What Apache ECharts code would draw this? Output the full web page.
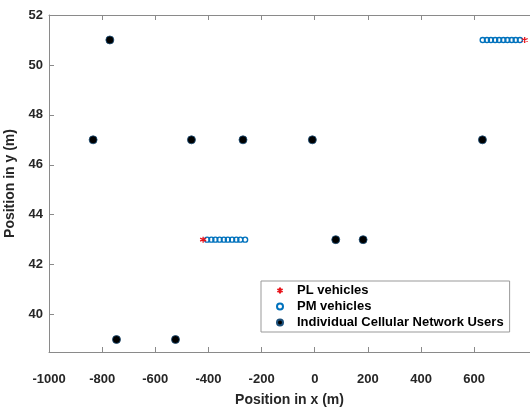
<!DOCTYPE html>
<html>
<head>
<meta charset="utf-8">
<script src="https://cdn.jsdelivr.net/npm/echarts@6/dist/echarts.min.js"></script>
<style>
	html, body { margin: 0; padding: 0; background: #fff; }
	#chart { width: 530px; height: 408px; }
</style>
</head>
<body>
<div id="chart"></div>
<script>
// tick labels
const xTicks = [-1000, -800, -600, -400, -200, 0, 200, 400, 600]
const yTicks = [40, 42, 44, 46, 48, 50, 52]

// PL vehicles (platoon leaders)
const plX = [790, -420]
const plY = [51, 43]

// PM vehicles (platoon members)
const pmX = [632, 648, 663, 679, 694, 710, 725, 741, 756, 772,
	-405, -389, -374, -358, -342, -327, -311, -295, -280, -262]
const pmY = [51, 51, 51, 51, 51, 51, 51, 51, 51, 51,
	43, 43, 43, 43, 43, 43, 43, 43, 43, 43]

// individual cellular network users
const userX = [-771, -834, -464, -270, -9, 631, 79, 182, -746, -524]
const userY = [51, 47, 47, 47, 47, 47, 43, 43, 39, 39]

const zip = (xs, ys) => xs.map((x, i) => [x, ys[i]])

const font = "'Liberation Sans', Arial, sans-serif"
const axisColor = '#8a8a8a'
const labelStyle = {
	color: '#262626',
	fontWeight: 'bold',
	fontSize: 13,
	fontFamily: font,
}

const starPath = 'path://M0,-10 L0,10 M-8.66,-5 L8.66,5 M-8.66,5 L8.66,-5'

const chart = echarts.init(document.getElementById('chart'))
chart.setOption({
	animation: false,
	grid: { left: 49, right: 0, top: 15, bottom: 56, outerBoundsMode: 'none' },
	legend: {
		orient: 'vertical',
		left: 261,
		top: 281,
		padding: [3, 6, 3, 15],
		itemWidth: 24,
		itemHeight: 6,
		itemGap: 3,
		borderColor: '#999',
		borderWidth: 1,
		backgroundColor: '#fff',
		textStyle: {
			color: '#000',
			fontWeight: 'bold',
			fontSize: 13,
			fontFamily: font,
		},
		data: ['PL vehicles', 'PM vehicles', 'Individual Cellular Network Users'],
	},
	xAxis: [
		{
			type: 'value',
			min: -1000,
			max: 810,
			name: 'Position in x (m)',
			nameLocation: 'middle',
			nameGap: 41,
			nameTextStyle: { ...labelStyle, fontSize: 14 },
			splitLine: { show: false },
			axisLine: { show: true, onZero: false, lineStyle: { color: axisColor } },
			axisTick: {
				inside: true,
				length: 5,
				customValues: xTicks,
				lineStyle: { color: axisColor },
			},
			axisLabel: {
				...labelStyle,
				margin: 21,
				customValues: xTicks,
				formatter: (v) => String(v),
			},
		},
		{
			type: 'value',
			position: 'top',
			min: -1000,
			max: 810,
			splitLine: { show: false },
			axisLine: { show: true, onZero: false, lineStyle: { color: axisColor } },
			axisTick: {
				inside: true,
				length: 5,
				customValues: xTicks,
				lineStyle: { color: axisColor },
			},
			axisLabel: { show: false },
		},
	],
	yAxis: {
		type: 'value',
		min: 38.5,
		max: 52,
		name: 'Position in y (m)',
		nameLocation: 'middle',
		nameGap: 23,
		nameTextStyle: { ...labelStyle, fontSize: 14 },
		splitLine: { show: false },
		axisLine: { show: true, onZero: false, lineStyle: { color: axisColor } },
		axisTick: {
			inside: true,
			length: 5,
			customValues: yTicks,
			lineStyle: { color: axisColor },
		},
		axisLabel: { ...labelStyle, margin: 6, customValues: yTicks },
	},
	series: [
		{
			name: 'Individual Cellular Network Users',
			type: 'scatter',
			symbol: 'circle',
			symbolSize: 8,
			z: 2,
			itemStyle: { color: '#000', borderColor: '#1b4f7a', borderWidth: 0.8, opacity: 1 },
			data: zip(userX, userY),
		},
		{
			name: 'PM vehicles',
			type: 'scatter',
			symbol: 'circle',
			symbolSize: 5,
			z: 3,
			itemStyle: { color: 'transparent', borderColor: '#0072BD', borderWidth: 1.4, opacity: 1 },
			data: zip(pmX, pmY),
		},
		{
			name: 'PL vehicles',
			type: 'scatter',
			symbol: starPath,
			symbolSize: 6,
			z: 4,
			itemStyle: { color: 'transparent', borderColor: '#e8141b', borderWidth: 1.3, opacity: 1 },
			data: zip(plX, plY),
		},
	],
})
</script>
</body>
</html>
